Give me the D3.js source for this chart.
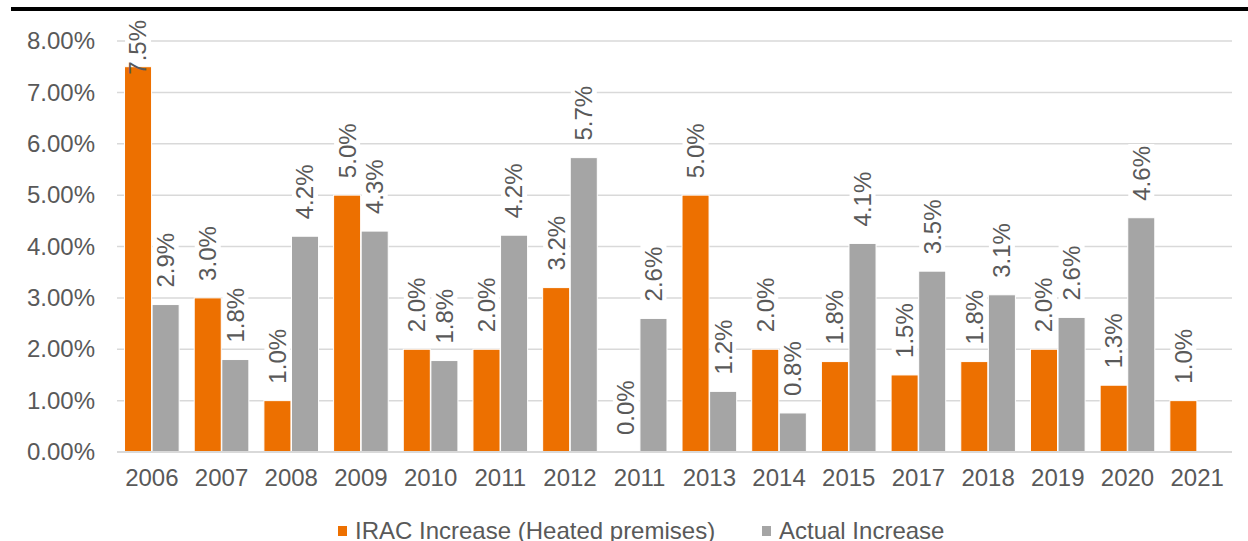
<!DOCTYPE html>
<html>
<head>
<meta charset="utf-8">
<script src="https://cdn.jsdelivr.net/npm/d3@7"></script>
<style>
	html, body { margin: 0; padding: 0; background: #fff; }
	svg { display: block; font-family: "Liberation Sans", Arial, sans-serif; }
</style>
</head>
<body>
<svg id="chart" width="1248" height="541"></svg>
<script>
(() => {
	// data
	const years = ["2006", "2007", "2008", "2009", "2010", "2011", "2012", "2011", "2013", "2014", "2015", "2017", "2018", "2019", "2020", "2021"];
	const irac = [7.5, 3.0, 1.0, 5.0, 2.0, 2.0, 3.2, 0.0, 5.0, 2.0, 1.76, 1.5, 1.76, 2.0, 1.3, 1.0];
	const actual = [2.87, 1.8, 4.2, 4.3, 1.78, 4.22, 5.73, 2.6, 1.18, 0.76, 4.06, 3.52, 3.06, 2.62, 4.56, null];
	const seriesNames = ["IRAC Increase (Heated premises)", "Actual Increase"];
	const yTicks = [0, 1, 2, 3, 4, 5, 6, 7, 8];

	const colors = ["#ed7000", "#a5a5a5"];
	const textCol = "#595959";
	const fs = 24;

	const W = 1248, H = 541;
	const m = { top: 41, right: 16, bottom: 89, left: 117 };
	const iw = W - m.left - m.right;
	const ih = H - m.top - m.bottom;

	const svg = d3.select("#chart");

	// black rule across the top
	svg.append("rect").attr("x", 11).attr("y", 7).attr("width", W - 11).attr("height", 4).attr("fill", "#000");

	const g = svg.append("g").attr("transform", `translate(${m.left}, ${m.top})`);

	const idx = d3.range(years.length);
	const x = d3.scaleBand().domain(idx).range([0, iw]).paddingInner(0.2).paddingOuter(0.1);
	const xs = d3.scaleBand().domain([0, 1]).range([0, x.bandwidth()]).padding(0.02);
	const y = d3.scaleLinear().domain([0, 8]).range([ih, 0]);

	// gridlines
	g.append("g")
		.selectAll("line").data(yTicks.filter(d => d > 0)).join("line")
		.attr("x1", 0).attr("x2", iw)
		.attr("y1", d => y(d)).attr("y2", d => y(d))
		.attr("stroke", "#d9d9d9").attr("stroke-width", 1.5);

	// y axis labels
	const yAxis = g.append("g")
		.call(d3.axisLeft(y).tickValues(yTicks).tickFormat(d => d3.format(".2f")(d) + "%").tickSize(0).tickPadding(22));
	yAxis.select(".domain").remove();
	yAxis.selectAll("text").attr("font-size", fs).attr("fill", textCol).attr("font-family", "Liberation Sans, Arial, sans-serif");

	const rows = idx.map(i => [
		{ i, s: 0, v: irac[i] },
		{ i, s: 1, v: actual[i] }
	]).flat().filter(d => d.v != null);

	// label boxes go under the bars, label text over them
	const boxLayer = g.append("g");
	const barLayer = g.append("g");
	const textLayer = g.append("g");

	barLayer.selectAll("rect").data(rows).join("rect")
		.attr("x", d => x(d.i) + xs(d.s))
		.attr("y", d => y(d.v))
		.attr("width", xs.bandwidth())
		.attr("height", d => ih - y(d.v))
		.attr("fill", d => colors[d.s])
		.attr("stroke", "#fff").attr("stroke-width", 1);

	// baseline
	g.append("line").attr("x1", 0).attr("x2", iw).attr("y1", ih).attr("y2", ih)
		.attr("stroke", "#d9d9d9").attr("stroke-width", 2);

	// data labels, rotated
	textLayer.selectAll("text").data(rows).join("text")
		.attr("font-size", fs).attr("fill", textCol)
		.attr("dy", "0.35em")
		.text(d => d3.format(".1f")(d.v) + "%")
		.each(function (d) {
			const len = this.getComputedTextLength();
			const cx = x(d.i) + xs(d.s) + xs.bandwidth() / 2;
			const start = Math.max(y(d.v) - 17, -21 + len);
			const tf = `translate(${cx}, ${start}) rotate(-90)`;
			d3.select(this).attr("transform", tf);
			boxLayer.append("rect").attr("transform", tf)
				.attr("x", -2).attr("y", -13).attr("width", len + 4).attr("height", 26)
				.attr("fill", "#fff");
		});

	// x axis labels
	const xAxis = g.append("g").attr("transform", `translate(0, ${ih})`)
		.call(d3.axisBottom(x).tickFormat(i => years[i]).tickSize(0).tickPadding(17));
	xAxis.select(".domain").remove();
	xAxis.selectAll("text").attr("font-size", fs).attr("fill", textCol).attr("font-family", "Liberation Sans, Arial, sans-serif");

	// legend
	const leg = svg.append("g").attr("transform", "translate(338, 531)");
	const legX = [0, 424];
	seriesNames.forEach((name, k) => {
		const it = leg.append("g").attr("transform", `translate(${legX[k]}, 0)`);
		it.append("rect").attr("x", 0).attr("y", -5).attr("width", 9).attr("height", 10).attr("fill", colors[k]);
		it.append("text").attr("x", 17).attr("dy", "0.35em")
			.attr("font-size", fs).attr("fill", textCol).text(name);
	});
})();
</script>
</body>
</html>
